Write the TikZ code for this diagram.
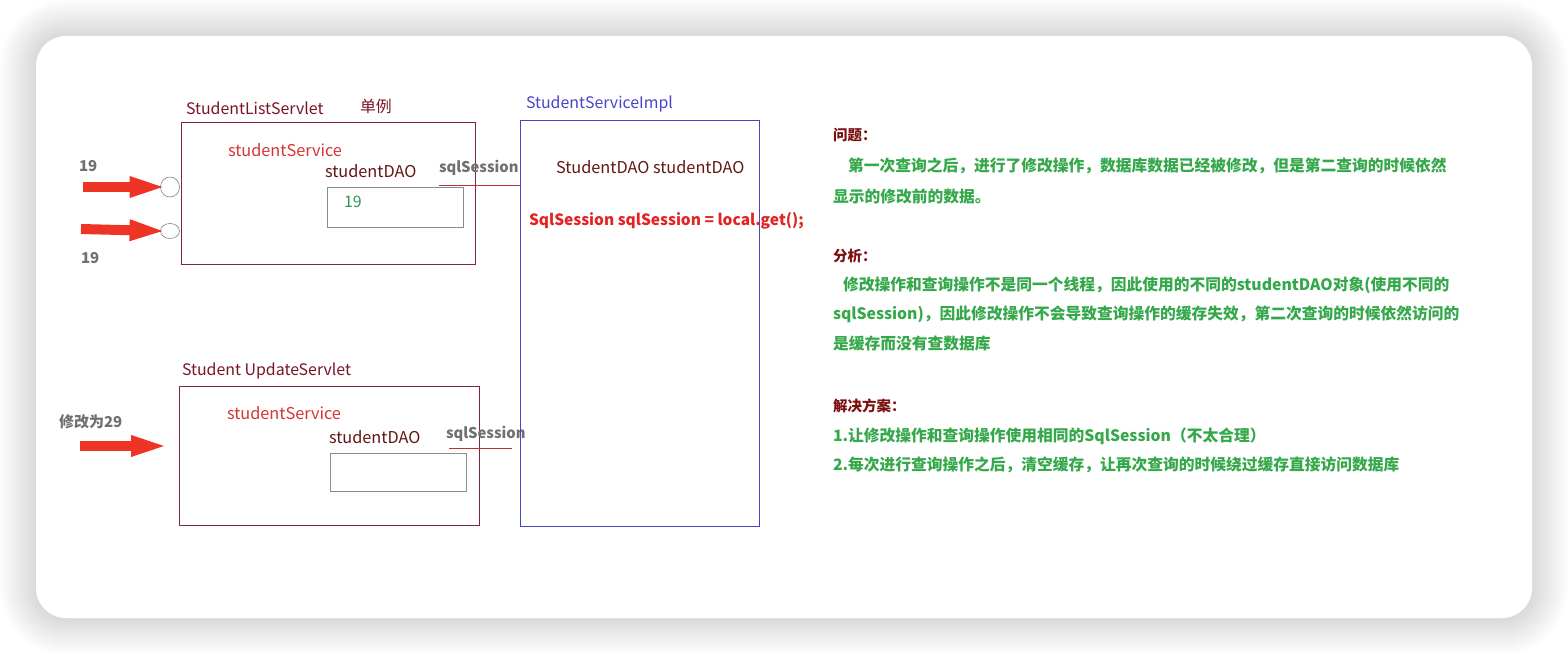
\documentclass[tikz,border=0pt]{standalone}
\usepackage{fontspec}
\setmainfont{Noto Sans CJK SC}
\usetikzlibrary{shapes,arrows.meta,positioning,calc}
\definecolor{servletred}{RGB}{128, 38, 56}
\definecolor{labelred}{RGB}{122, 20, 40}
\definecolor{fieldred}{RGB}{214, 52, 52}
\definecolor{daored}{RGB}{100, 22, 22}
\definecolor{valgreen}{RGB}{46, 150, 90}
\definecolor{sessgray}{RGB}{112, 112, 112}
\definecolor{implblue}{RGB}{70, 70, 200}
\definecolor{codered}{RGB}{226, 36, 36}
\definecolor{headred}{RGB}{124, 16, 16}
\definecolor{notegreen}{RGB}{52, 168, 74}
\definecolor{arrowred}{RGB}{238, 52, 36}

\begin{document}
\begin{tikzpicture}[
    x=1pt, y=-1pt,
    every node/.style={inner sep=0pt, outer sep=0pt, anchor=west},
    servlet/.style={rectangle, draw=servletred, line width=0.9pt, minimum width=#1, anchor=north west},
    impl/.style={rectangle, draw=implblue, line width=0.9pt, minimum width=239pt, minimum height=406pt, anchor=north west},
    cache/.style={rectangle, draw=gray!90, line width=0.9pt, minimum width=136pt, minimum height=39pt, anchor=north west},
    port/.style={ellipse, draw=gray, line width=0.6pt, minimum width=19pt, anchor=center},
    title/.style={font=\fontsize{15.9}{18}\selectfont},
    field/.style={font=\fontsize{16.3}{18}\selectfont, text=fieldred},
    dao/.style={font=\fontsize{16.3}{18}\selectfont, text=daored},
    sess/.style={font=\bfseries\fontsize{14.8}{18}\selectfont, text=sessgray},
    count/.style={font=\bfseries\fontsize{15}{18}\selectfont, text=sessgray},
    head/.style={font=\bfseries\fontsize{14.5}{18}\selectfont, text=headred},
    note/.style={font=\bfseries\fontsize{15.75}{18}\selectfont, text=notegreen},
    sessline/.style={draw=fieldred!90!black, line width=0.8pt},
    bigarrow/.style={draw=arrowred, line width=10pt, shorten >=-9pt, -{Triangle[length=40pt, width=18pt]}}
]
\useasboundingbox (0,0) rectangle (1568,654);

% Card with soft shadow
\foreach \s in {1,...,12} {
    \pgfmathsetmacro\rr{30+3*\s}
    \fill[black, opacity=0.012, rounded corners=\rr pt] (36-3*\s, 36-3*\s) rectangle (1532+3*\s, 618+3*\s);
}
\fill[white, rounded corners=30pt] (36,36) rectangle (1532,618);

% StudentListServlet
\node[servlet=294pt, minimum height=142pt] (listbox) at (181,122) {};
\node[title, text=labelred] (listname) at (186,108) {StudentListServlet};
\node[title, text=labelred] (single) at (360,106) {单例};
\node[field] (listsvc) at (228,150) {studentService};
\node[dao] (listdao) at (325,171) {studentDAO};
\node[cache, minimum height=40pt] (listcache) at (327,187) {};
\node[title, text=valgreen] (listval) at (344,202) {19};
\node[sess] (listsess) at (439,168) {sqlSession};

% Requests
\node[port, minimum height=20pt] (port1) at (170,187) {};
\node[port, minimum height=15pt] (port2) at (170,231) {};
\node[count] (val1) at (79,166) {19};
\node[count] (val2) at (81,258) {19};
\coordinate (src1) at (83,187);
\coordinate (src2) at (81,229);

% Student UpdateServlet
\node[servlet=300pt, minimum height=139pt] (updbox) at (179,386) {};
\node[title, text=labelred] (updname) at (182,371) {Student UpdateServlet};
\node[field] (updsvc) at (227,413) {studentService};
\node[dao] (upddao) at (329,437) {studentDAO};
\node[cache, minimum height=38pt] (updcache) at (330,453) {};
\node[sess] (updsess) at (446,434) {sqlSession};
\node[count] (updval) at (59,422) {修改为29};
\coordinate (src3) at (80,446);
\coordinate (updin) at (162,446);

% StudentServiceImpl
\node[impl] (implbox) at (520,120) {};
\node[title, text=implblue] (implname) at (526,104) {StudentServiceImpl};
\node[dao] (impldao) at (556,167) {StudentDAO studentDAO};
\node[font=\bfseries\fontsize{15.5}{18}\selectfont, text=codered] (implcode) at (529,221) {SqlSession sqlSession = local.get();};

% Connections
\draw[bigarrow] (src1) -- (port1.west);
\draw[bigarrow] (src2) -- (port2.west);
\draw[bigarrow] (src3) -- (updin);
\draw[sessline] ([yshift=-10pt]listsess.south west) -- ([yshift=-10pt]listsess.south west -| implbox.west);
\draw[sessline] ([xshift=3pt, yshift=-7pt]updsess.south west) -- ($([yshift=-7pt]updsess.south west -| implbox.west)+(-8,0)$);

% Notes
\node[head] (q0) at (833,135) {问题：};
\node[note] (q1) at (848,166) {第一次查询之后，进行了修改操作，数据库数据已经被修改，但是第二查询的时候依然};
\node[note] (q2) at (833,197) {显示的修改前的数据。};
\node[head] (a0) at (833,256) {分析：};
\node[note] (a1) at (843,285) {修改操作和查询操作不是同一个线程，因此使用的不同的studentDAO对象(使用不同的};
\node[note] (a2) at (833,314) {sqlSession)，因此修改操作不会导致查询操作的缓存失效，第二次查询的时候依然访问的};
\node[note] (a3) at (833,343) {是缓存而没有查数据库};
\node[head] (s0) at (833,406) {解决方案：};
\node[note] (s1) at (833,436) {1.让修改操作和查询操作使用相同的SqlSession（不太合理）};
\node[note] (s2) at (833,465) {2.每次进行查询操作之后，清空缓存，让再次查询的时候绕过缓存直接访问数据库};

\end{tikzpicture}
\end{document}
